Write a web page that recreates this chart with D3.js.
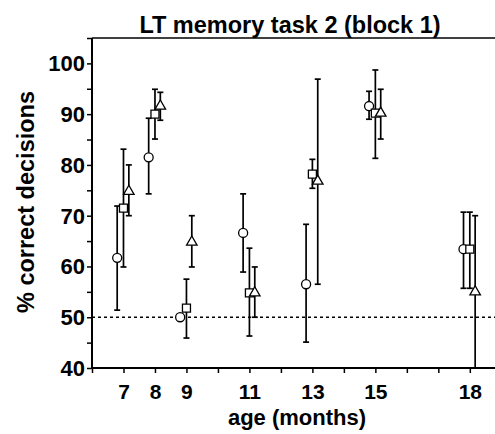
<!DOCTYPE html>
<html><head><meta charset="utf-8">
<script src="https://cdn.jsdelivr.net/npm/d3@7"></script>
<style>body{margin:0;background:#fff}svg{display:block}</style>
</head><body>
<svg id="c" width="495" height="434"></svg>
<script>
const ages = [7, 8, 9, 11, 13, 15, 18];
const tickAges = [7, 8, 9, 11, 13, 15, 18];
const yTicks = [40, 50, 60, 70, 80, 90, 100];
const circleMean = [61.7, 81.5, 50.0, 66.6, 56.5, 91.6, 63.4];
const circleLo   = [51.4, 74.3, 50.0, 58.9, 45.1, 89.0, 55.7];
const circleHi   = [71.9, 89.2, 50.0, 74.3, 68.3, 94.5, 70.7];
const squareMean = [71.5, 90.0, 51.8, 54.8, 78.2, 90.2, 63.4];
const squareLo   = [59.9, 85.1, 45.9, 46.3, 75.4, 81.3, 55.7];
const squareHi   = [83.1, 94.9, 57.5, 63.6, 81.1, 98.7, 70.7];
const triMean    = [74.8, 91.6, 64.8, 54.8, 76.8, 90.2, 55.0];
const triLo      = [70.0, 88.8, 59.9, 50.0, 56.5, 85.1, 40.0];
const triHi      = [80.0, 94.3, 70.0, 59.9, 96.9, 94.9, 70.0];
const chance = 50;

const svg = d3.select("#c");
const x = d3.scaleLinear().domain([6, 18.8]).range([92, 495]);
const y = d3.scaleLinear().domain([40, 105]).range([368, 38]);
const font = "'Liberation Sans', Arial, sans-serif";

// frame
svg.append("line").attr("x1", x(6)).attr("x2", 495).attr("y1", y(105)).attr("y2", y(105))
  .attr("stroke", "#000").attr("stroke-width", 1.5);

// chance line
svg.append("line").attr("x1", x(6)).attr("x2", 495).attr("y1", y(chance)).attr("y2", y(chance))
  .attr("stroke", "#000").attr("stroke-width", 1.3).attr("stroke-dasharray", "3,3");

// y axis
const yAxis = svg.append("g").attr("transform", `translate(${x(6)},0)`)
  .call(d3.axisLeft(y).tickValues(d3.range(40, 106, 5)).tickSize(5)
    .tickFormat(d => yTicks.includes(d) ? d : ""));
yAxis.select(".domain").attr("stroke-width", 2).attr("d", `M0,${y(40)}V${y(105)}`);
yAxis.selectAll(".tick line").attr("stroke-width", 1.5);
yAxis.selectAll(".tick text").attr("font-family", font).attr("font-weight", "bold")
  .attr("font-size", 22).attr("fill", "#000").attr("x", -7).attr("dy", "0.34em");

// x axis
const xAxis = svg.append("g").attr("transform", `translate(0,${y(40)})`)
  .call(d3.axisBottom(x).tickValues(d3.range(6, 19, 1)).tickSize(5)
    .tickFormat(d => tickAges.includes(d) ? d : ""));
xAxis.select(".domain").attr("stroke-width", 2).attr("d", `M${x(6)},0H495`);
xAxis.selectAll(".tick line").attr("stroke-width", 1.5);
xAxis.selectAll(".tick text").attr("font-family", font).attr("font-weight", "bold")
  .attr("font-size", 21).attr("fill", "#000").attr("y", 31).attr("dy", 0);

// titles
svg.append("text").attr("x", 290).attr("y", 33).attr("text-anchor", "middle")
  .attr("font-family", font).attr("font-weight", "bold").attr("font-size", 23.5)
  .text("LT memory task 2 (block 1)");
svg.append("text").attr("x", 297).attr("y", 425).attr("text-anchor", "middle")
  .attr("font-family", font).attr("font-weight", "bold").attr("font-size", 22)
  .text("age (months)");
svg.append("text").attr("transform", `translate(34,202) rotate(-90)`).attr("text-anchor", "middle")
  .attr("font-family", font).attr("font-weight", "bold").attr("font-size", 23.5)
  .text("% correct decisions");

const series = [
  {mean: circleMean, lo: circleLo, hi: circleHi, off: -0.2, type: d3.symbolCircle, size: 64},
  {mean: squareMean, lo: squareLo, hi: squareHi, off: 0, type: d3.symbolSquare, size: 64},
  {mean: triMean, lo: triLo, hi: triHi, off: 0.17, type: d3.symbolTriangle, size: 48}
];

const g = svg.append("g");
series.forEach(s => {
  ages.forEach((a, i) => {
    if (s.hi[i] - s.lo[i] <= 0) return;
    const cx = x(a + s.off);
    g.append("line").attr("x1", cx).attr("x2", cx).attr("y1", y(s.lo[i])).attr("y2", y(s.hi[i]))
      .attr("stroke", "#000").attr("stroke-width", 1.7);
    [s.lo[i], s.hi[i]].forEach(v => {
      if (v <= 40) return;
      g.append("line").attr("x1", cx - 3).attr("x2", cx + 3).attr("y1", y(v)).attr("y2", y(v))
        .attr("stroke", "#000").attr("stroke-width", 1.7);
    });
  });
});
series.forEach(s => {
  ages.forEach((a, i) => {
    g.append("path").attr("d", d3.symbol().type(s.type).size(s.size)())
      .attr("transform", `translate(${x(a + s.off)},${y(s.mean[i])})`)
      .attr("fill", "#fff").attr("stroke", "#000").attr("stroke-width", 1.3);
  });
});
</script>
</body></html>
